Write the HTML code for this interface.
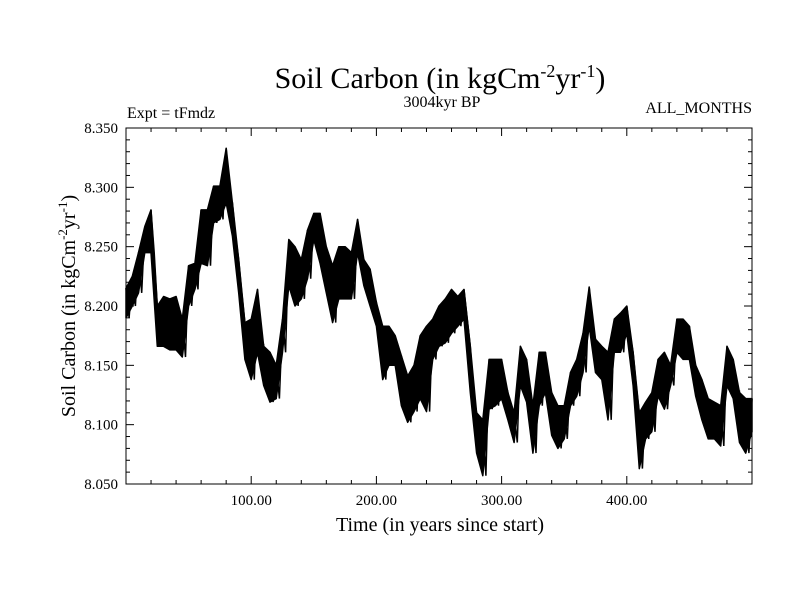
<!DOCTYPE html>
<html><head><meta charset="utf-8"><style>
body{margin:0;background:#fff;}
svg{display:block;font-family:"Liberation Serif",serif;}
</style></head><body>
<svg id="chart" width="800" height="600" viewBox="0 0 800 600">
<rect width="800" height="600" fill="#fff"/>
<text x="440" y="88" font-size="30" text-anchor="middle">Soil Carbon (in kgCm<tspan dy="-11" font-size="18">-2</tspan><tspan dy="11">yr</tspan><tspan dy="-11" font-size="18">-1</tspan><tspan dy="11">)</tspan></text>
<text x="127" y="118" font-size="16">Expt = tFmdz</text>
<text x="442" y="107" font-size="16" text-anchor="middle">3004kyr BP</text>
<text x="752" y="113" font-size="16" text-anchor="end">ALL_MONTHS</text>
<text transform="translate(75,306) rotate(-90)" font-size="20" text-anchor="middle">Soil Carbon (in kgCm<tspan dy="-8" font-size="13">-2</tspan><tspan dy="8">yr</tspan><tspan dy="-8" font-size="13">-1</tspan><tspan dy="8">)</tspan></text>
<text x="440" y="531" font-size="20" text-anchor="middle">Time (in years since start)</text>
<g id="axes"></g>
<g id="series"></g>
<rect x="126" y="128" width="626" height="356" fill="none" stroke="#000" stroke-width="1"/>
</svg>
<script>
const years = [];
for (let i = 0; i <= 100; i++) years.push(i * 5);
const seriesHigh = [8.215,8.225,8.245,8.267,8.281,8.200,8.208,8.206,8.208,8.189,8.234,8.236,8.281,8.281,8.301,8.301,8.333,8.287,8.239,8.186,8.189,8.214,8.166,8.161,8.150,8.189,8.256,8.250,8.239,8.264,8.278,8.278,8.250,8.234,8.250,8.250,8.245,8.273,8.239,8.231,8.203,8.183,8.183,8.175,8.158,8.141,8.150,8.175,8.183,8.189,8.200,8.206,8.214,8.208,8.214,8.166,8.110,8.104,8.155,8.155,8.155,8.127,8.110,8.166,8.155,8.116,8.161,8.161,8.127,8.116,8.116,8.144,8.155,8.177,8.216,8.172,8.166,8.161,8.189,8.194,8.200,8.161,8.110,8.119,8.127,8.155,8.161,8.150,8.189,8.189,8.183,8.150,8.138,8.122,8.119,8.116,8.166,8.155,8.127,8.122,8.122];
const seriesLow = [8.190,8.200,8.211,8.245,8.245,8.166,8.166,8.163,8.163,8.157,8.200,8.214,8.236,8.234,8.270,8.273,8.287,8.259,8.211,8.155,8.138,8.161,8.133,8.119,8.122,8.161,8.217,8.200,8.206,8.223,8.256,8.236,8.211,8.186,8.206,8.206,8.206,8.245,8.217,8.200,8.183,8.138,8.150,8.150,8.116,8.102,8.111,8.122,8.111,8.155,8.166,8.169,8.177,8.183,8.189,8.127,8.076,8.057,8.113,8.116,8.122,8.104,8.085,8.133,8.119,8.076,8.116,8.127,8.091,8.080,8.088,8.116,8.124,8.144,8.183,8.144,8.138,8.104,8.161,8.161,8.177,8.133,8.063,8.088,8.094,8.124,8.113,8.133,8.161,8.155,8.155,8.124,8.104,8.088,8.088,8.082,8.133,8.122,8.085,8.076,8.094];
const yTickLabels = ["8.050","8.100","8.150","8.200","8.250","8.300","8.350"];
const xTickLabels = ["100.00","200.00","300.00","400.00"];

const NS = "http://www.w3.org/2000/svg";
const X0 = 126, X1 = 752, Y0 = 484, Y1 = 128;
const xMin = 0, xMax = 500, yMin = 8.05, yMax = 8.35;
function xs(v){ return X0 + (v - xMin) / (xMax - xMin) * (X1 - X0); }
function ys(v){ return Y0 - (v - yMin) / (yMax - yMin) * (Y0 - Y1); }

const axes = document.getElementById('axes');
function line(x1,y1,x2,y2){
  const l = document.createElementNS(NS,'line');
  l.setAttribute('x1',x1); l.setAttribute('y1',y1); l.setAttribute('x2',x2); l.setAttribute('y2',y2);
  l.setAttribute('stroke','#000'); l.setAttribute('stroke-width','1');
  return l;
}
for (let k = 0; k <= 30; k++) {
  const v = yMin + k * 0.01;
  const y = ys(v);
  const major = k % 5 === 0;
  const len = major ? 8 : 4;
  const a = line(X0, y, X0 + len, y);
  
  
  axes.appendChild(a);
  const b = line(X1 - len, y, X1, y);
  
  
  axes.appendChild(b);
}
yTickLabels.forEach(s => {
  const t = document.createElementNS(NS,'text');
  t.setAttribute('x', 118); t.setAttribute('y', ys(parseFloat(s)) + 5);
  t.setAttribute('font-size','15'); t.setAttribute('text-anchor','end');
  t.textContent = s;
  
  
  axes.appendChild(t);
});
for (let k = 0; k <= 25; k++) {
  const v = k * 20;
  const x = xs(v);
  const major = k % 5 === 0;
  const len = major ? 8 : 4;
  const a = line(x, Y0, x, Y0 - len);
  
  
  axes.appendChild(a);
  const b = line(x, Y1, x, Y1 + len);
  
  
  axes.appendChild(b);
}
xTickLabels.forEach(s => {
  const t = document.createElementNS(NS,'text');
  t.setAttribute('x', xs(parseFloat(s))); t.setAttribute('y', 505);
  t.setAttribute('font-size','15'); t.setAttribute('text-anchor','middle');
  t.textContent = s;
  
  
  axes.appendChild(t);
});
let d = '';
years.forEach((yr,i) => { d += (i ? 'L' : 'M') + xs(yr).toFixed(1) + ',' + ys(seriesHigh[i]).toFixed(1); });
for (let i = years.length - 1; i >= 0; i--) d += 'L' + xs(years[i]).toFixed(1) + ',' + ys(seriesLow[i]).toFixed(1);
d += 'Z';
const band = document.createElementNS(NS,'path');
band.setAttribute('d', d);
band.setAttribute('fill', '#000');
band.setAttribute('stroke', '#000');
band.setAttribute('stroke-width', '1.5');
band.setAttribute('stroke-linejoin', 'round');


document.getElementById('series').appendChild(band);
let z = '';
years.forEach((yr,i) => {
  z += (i ? 'L' : 'M') + xs(yr).toFixed(1) + ',' + ys(seriesHigh[i]).toFixed(1);
  if (i < years.length - 1) z += 'L' + xs(yr + 2.5).toFixed(1) + ',' + ys(seriesLow[i]).toFixed(1);
});
const zz = document.createElementNS(NS,'path');
zz.setAttribute('d', z);
zz.setAttribute('fill', 'none');
zz.setAttribute('stroke', '#000');
zz.setAttribute('stroke-width', '1.5');


document.getElementById('series').appendChild(zz);
</script>
</body></html>
